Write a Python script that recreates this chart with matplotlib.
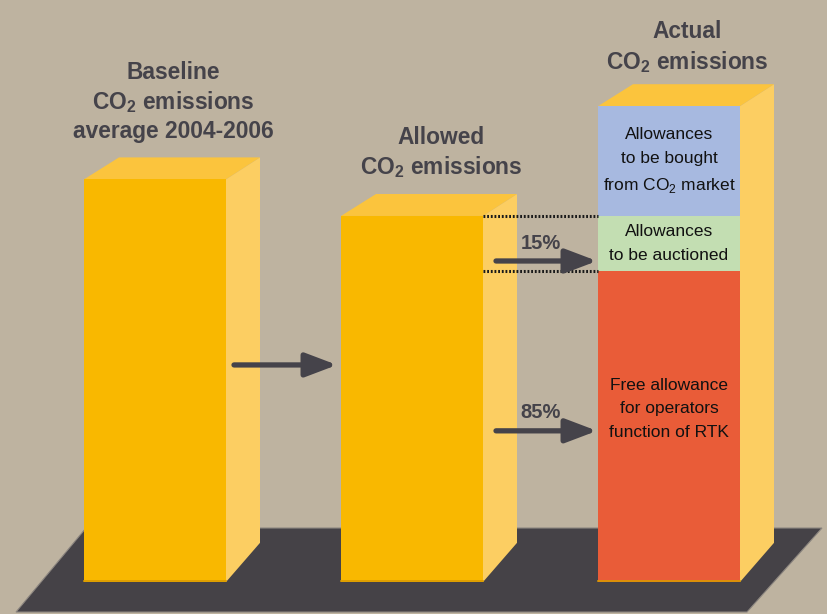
import matplotlib
matplotlib.use("Agg")
import matplotlib.pyplot as plt
from matplotlib.patches import Polygon

plt.rcParams["font.family"] = ["Liberation Sans", "DejaVu Sans"]
plt.rcParams["mathtext.fontset"] = "custom"
plt.rcParams["mathtext.rm"] = "Liberation Sans"
plt.rcParams["mathtext.bf"] = "Liberation Sans:bold"

# CO2 emission levels, allowed emissions = 100
bar_titles = [
    "Baseline\nCO$_\\mathbf{2}$ emissions\naverage 2004-2006",
    "Allowed\nCO$_\\mathbf{2}$ emissions",
    "Actual\nCO$_\\mathbf{2}$ emissions",
]
bar_levels = [110, 100, 130]
auction_share = 15
free_share = 85
segment_labels = [
    "Free allowance\nfor operators\nfunction of RTK",
    "Allowances\nto be auctioned",
    "Allowances\nto be bought\nfrom CO$_\\mathrm{2}$ market",
]
share_labels = ["85%", "15%"]

allowed = bar_levels[1]
free_part = allowed * free_share / 100
auction_part = allowed * auction_share / 100
bought_part = bar_levels[2] - allowed
segments = [free_part, auction_part, bought_part]

BG = "#BEB3A0"
FRONT = "#F9B800"
SIDE = "#FCCE62"
TOP = "#FBC43D"
FLOOR = "#454247"
SEG_COLORS = ["#E95C38", "#C3DEB2", "#A7B9E0"]
TEXT_DARK = "#45434A"

fig = plt.figure(figsize=(8.28, 6.14), dpi=100)
fig.patch.set_facecolor(BG)
ax = fig.add_axes([0, 0, 1, 1])
ax.set_facecolor(BG)
ax.set_xlim(0, 828)
ax.set_ylim(-8.74, 159.0)
ax.axis("off")

# floor slab
floor = Polygon([(16, -8.2), (86, 14.75), (822, 14.75), (747, -8.2)],
                closed=True, facecolor=FLOOR, edgecolor="#8c8680", lw=0.8, zorder=1)
ax.add_patch(floor)

bar_left = [84, 341, 598]
bar_width = 142
side_dx = 34
back_dx = 35
top_dy = 6.0
base_dy = 10.7


def draw_box(x0, height):
    x1 = x0 + bar_width
    side = Polygon([(x1, 0), (x1 + side_dx, base_dy), (x1 + side_dx, height + top_dy),
                    (x1, height)], closed=True, facecolor=SIDE, edgecolor="none", zorder=2)
    top = Polygon([(x0, height), (x0 + back_dx, height + top_dy),
                   (x1 + side_dx, height + top_dy), (x1, height)],
                  closed=True, facecolor=TOP, edgecolor="none", zorder=2)
    ax.add_patch(side)
    ax.add_patch(top)


for i, level in enumerate(bar_levels):
    x0 = bar_left[i]
    draw_box(x0, level)
    if i < 2:
        ax.bar(x0, level, width=bar_width, align="edge", color=FRONT,
               edgecolor="none", zorder=3)
    else:
        bottom = 0
        for seg, color in zip(segments, SEG_COLORS):
            ax.bar(x0, seg, bottom=bottom, width=bar_width, align="edge",
                   color=color, edgecolor="none", zorder=3)
            bottom += seg
    ax.plot([x0, x0 + bar_width], [0.2, 0.2], color="#D99A00", lw=1.2, zorder=3)

# dotted guides from the allowed bar to the actual bar
x_from = bar_left[1] + bar_width
x_to = bar_left[2]
for y in [free_part, allowed]:
    ax.plot([x_from, x_to], [y, y], color="#1a1a1a", lw=2.2,
            linestyle=(0, (0.6, 0.6)), zorder=4)


def arrow(x0, x1, y):
    ax.annotate("", xy=(x1, y), xytext=(x0, y),
                arrowprops=dict(arrowstyle="-|>,head_length=0.95,head_width=0.36",
                                lw=3.8, color=TEXT_DARK, shrinkA=0, shrinkB=0,
                                mutation_scale=20),
                zorder=5)


arrow(234, 337, 59.3)
arrow(496, 597, 41.3)
arrow(496, 597, 87.7)
ax.text(541, 46.3, share_labels[0], ha="center", va="center", fontsize=14.5,
        fontweight="bold", color=TEXT_DARK, zorder=6)
ax.text(541, 92.6, share_labels[1], ha="center", va="center", fontsize=14.5,
        fontweight="bold", color=TEXT_DARK, zorder=6)

# titles above bars
title_x = [173, 441, 687]
title_y = [131.1, 117.2, 146.0]
for x, y, t in zip(title_x, title_y, bar_titles):
    ax.text(x, y, t, ha="center", va="center", fontsize=16.4, fontweight="bold",
            color=TEXT_DARK, linespacing=1.27, zorder=6)

# labels inside the stacked bar
seg_mid_x = bar_left[2] + bar_width / 2
seg_text_y = [47.3, free_part + auction_part / 2, allowed + bought_part / 2]
for y, t in zip(seg_text_y, segment_labels):
    ax.text(seg_mid_x, y, t, ha="center", va="center", fontsize=12.5,
            color="#111111", linespacing=1.7, zorder=6)

fig.savefig("out.png", dpi=100, facecolor=BG)
